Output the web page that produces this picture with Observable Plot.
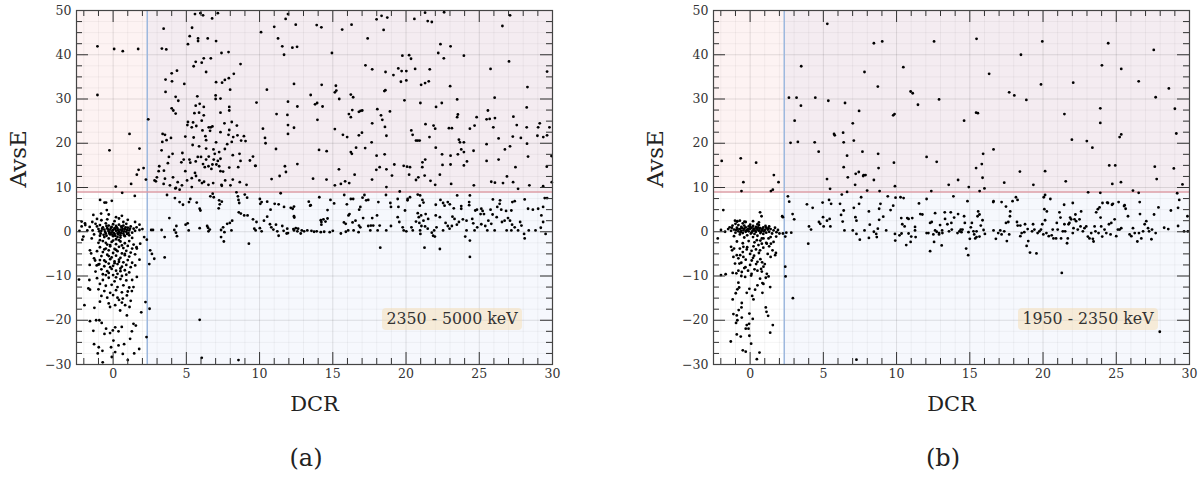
<!DOCTYPE html>
<html>
<head>
<meta charset="utf-8">
<script src="https://cdn.jsdelivr.net/npm/d3@7"></script>
<script src="https://cdn.jsdelivr.net/npm/@observablehq/plot@0.6"></script>
<style>
  html, body { margin: 0; padding: 0; background: #fff; }
  body { font-family: "DejaVu Serif", serif; color: #222; }
  #wrap { display: flex; width: 1201px; height: 480px; }
  .panel { position: relative; height: 480px; }
  .panel svg { display: block; }
  .legend { position: absolute; top: 308px; height: 22px; line-height: 22px; width: 140px;
            background: rgba(245, 222, 179, 0.5); border-radius: 4px; text-align: center;
            font-family: "DejaVu Serif", serif; font-size: 15.8px; color: #333; white-space: nowrap; }
  .caption { position: absolute; top: 444px; width: 100px; text-align: center;
             font-family: "DejaVu Serif", serif; font-size: 24px; color: #222; }
</style>
</head>
<body>
<div id="wrap"></div>
<script>
// ---------- axes / ticks ----------
const xDomain = [-2.5, 30];
const yDomain = [-30, 50];
const dcrCut = 2.33;
const avseCut = 9;
const xMajor = [0, 5, 10, 15, 20, 25, 30];
const xMinor = [-2, -1, 1, 2, 3, 4, 6, 7, 8, 9, 11, 12, 13, 14, 16, 17, 18, 19, 21, 22, 23, 24, 26, 27, 28, 29];
const yMajor = [-30, -20, -10, 0, 10, 20, 30, 40, 50];
const yMinor = [-27.5, -25, -22.5, -17.5, -15, -12.5, -7.5, -5, -2.5, 2.5, 5, 7.5, 12.5, 15, 17.5, 22.5, 25, 27.5, 32.5, 35, 37.5, 42.5, 45, 47.5];
const xLabel = "DCR";
const yLabel = "AvsE";
const legendA = "2350 - 5000 keV";
const legendB = "1950 - 2350 keV";
const captionA = "(a)";
const captionB = "(b)";

// ---------- panel (a): 2350 - 5000 keV ----------
const aCluster = [
[-1.2,1.8],[-1.1,1.2],[-1.0,0.6],[-0.9,1.5],[-0.8,0.2],[-0.7,1.0],[-0.6,0.5],[-0.5,1.9],[-0.5,-0.4],[-0.4,0.8],[-0.3,0.1],[-0.3,1.4],[-0.2,-0.6],[-0.2,0.5],[-0.1,1.1],[-0.1,-0.2],[0.0,0.4],[0.0,1.7],[0.1,-0.5],[0.1,0.8],[0.2,0.2],[0.2,1.3],[0.3,-0.3],[0.3,0.7],[0.4,0.0],[0.4,1.6],[0.5,0.5],[0.5,-0.8],[0.6,1.0],[0.6,0.2],[0.7,-0.4],[0.7,1.4],[0.8,0.6],[0.9,0.0],[0.9,1.8],[1.0,0.9],[1.1,0.3],[1.2,1.2],[1.3,-0.2],[1.4,0.7],[1.5,0.2],[1.6,1.0],[1.8,0.4],[2.0,0.6],[-1.4,0.3],[-1.6,1.1],[-1.3,-0.6],[-0.9,-0.9],[-0.6,-1.2],[-0.3,-1.5],[0.0,-1.0],[0.2,-1.7],[0.5,-1.3],[0.8,-1.0],[1.1,-0.8],[1.3,-1.4],[-0.8,2.6],[-0.4,2.8],[0.1,2.4],[0.4,3.0],[0.7,2.2],[1.0,2.7],[-1.1,2.9],[0.2,3.3],[0.6,3.6],[-0.3,3.9],[1.5,2.2],[1.8,1.6],[-1.9,1.5],[-2.3,0.2],[-2.1,-1.8],
[-0.95,0.1],[-0.75,0.7],[-0.55,0.0],[-0.45,1.3],[-0.35,0.5],[-0.25,-0.1],[-0.15,0.9],[-0.05,0.2],[0.05,-0.3],[0.15,0.6],[0.25,1.0],[0.35,0.3],[0.45,-0.2],[0.55,1.2],[0.65,0.6],[0.75,0.1],[0.85,1.0],[0.95,0.4],[1.05,-0.3],[1.15,0.7],[-0.85,-0.4],[-0.65,-0.7],[-0.45,-0.9],[-0.25,-0.4],[-0.05,-0.7],[0.15,-0.9],[0.35,-0.6],[0.55,-0.3],[0.75,-0.8],[0.95,-0.5],
[-1.0,-2.5],[-0.7,-2.1],[-0.4,-2.9],[-0.1,-2.3],[0.2,-2.8],[0.5,-2.2],[0.8,-2.6],[1.1,-2.1],[1.4,-2.9],[-0.9,-3.5],[-0.5,-3.8],[-0.2,-3.3],[0.1,-3.9],[0.4,-3.4],[0.7,-3.7],[1.0,-3.2],[1.3,-3.8],[-1.1,-4.4],[-0.7,-4.6],[-0.3,-4.2],[0.0,-4.8],[0.3,-4.4],[0.6,-4.9],[0.9,-4.3],[1.2,-4.7],[-0.8,-5.5],[-0.4,-5.2],[-0.1,-5.8],[0.2,-5.4],[0.5,-5.9],[0.8,-5.3],[1.1,-5.6],[1.5,-5.1],[-1.3,-6.0],[-0.9,-6.4],[-0.5,-6.8],[-0.2,-6.2],[0.1,-6.7],[0.4,-6.3],[0.7,-6.9],[1.0,-6.4],[1.3,-7.0],[-1.0,-7.4],[-0.6,-7.8],[-0.3,-7.2],[0.0,-7.7],[0.3,-7.3],[0.6,-7.9],[0.9,-7.5],[1.2,-8.0],[-0.8,-8.5],[-0.4,-8.9],[-0.1,-8.4],[0.2,-8.8],[0.5,-8.3],[0.8,-8.7],[1.1,-9.2],[-1.2,-9.0],[-0.7,-9.6],[-0.3,-9.3],[0.0,-9.8],[0.3,-9.5],[0.6,-10.0],[0.9,-9.7],[-1.5,-4.9],[-1.6,-7.5],[1.6,-3.5],[1.8,-6.3],[-0.9,-1.9],[0.3,-1.2],
[-0.5,-2.5],[0.0,-2.0],[0.4,-1.9],[-0.2,-3.0],[0.6,-3.1],[-0.6,-4.0],[0.2,-4.1],[0.8,-5.0],[-0.3,-5.5],[0.4,-6.8],[-0.6,-6.5],[0.1,-7.1],[-0.2,-8.0],[0.5,-8.9],[-0.5,-9.8],[0.2,-10.3],
[-1.1,-10.5],[-0.7,-10.9],[-0.3,-10.4],[0.1,-11.2],[0.5,-10.7],[0.9,-11.0],[1.3,-10.9],[-0.9,-11.8],[-0.5,-12.2],[-0.1,-12.0],[0.3,-12.5],[0.7,-12.1],[1.1,-12.6],[-1.0,-13.0],[-0.6,-13.4],[-0.2,-13.8],[0.2,-13.2],[0.6,-13.7],[1.0,-13.5],[-0.8,-14.5],[-0.4,-14.9],[0.0,-14.3],[0.4,-15.4],[-0.9,-15.8],[-0.3,-16.2],[0.6,-16.0],[1.2,-15.6],
[-2.33,-10.8],[-1.62,-10.9],[-1.69,-12.8],[-1.58,-13.1],[-1.96,-16.6],[-1.28,-17.2],[-1.58,-20.2],[-1.16,-20.0],[-0.94,-20.0],[-1.35,-22.4],[-1.3,-25.4],[-0.98,-26.1],[-1.05,-27.5],[-0.73,-26.9],[-0.71,-29.5],[-0.09,-28.3],[0.14,-27.2],[0.66,-27.6],[1.0,-29.0],[1.44,-27.5],[1.78,-26.5],[2.28,-23.8],[2.21,-15.9],[1.92,-18.2],[1.39,-20.8],[1.55,-21.2],[1.28,-22.5],[1.16,-24.2],[0.75,-25.4],[0.37,-25.7],[-0.14,-26.1],[0.02,-24.6],[-0.21,-22.9],[-0.02,-22.3],[0.14,-21.6],[0.37,-22.5],[0.59,-21.5],[-0.59,-23.1],[-0.48,-21.9],[-0.78,-20.6],[0.94,-18.9],[1.12,-17.0],[0.82,-16.6],[0.48,-17.8],[0.14,-16.6],[-0.21,-17.0],[0.3,-14.9],[0.66,-15.1],[0.94,-14.4],[1.28,-13.4],[1.39,-12.5],[1.62,-10.2],[1.51,-7.6],[1.62,-3.8],[1.85,-2.7],[2.12,-1.2],[2.3,-1.8],[-0.94,-7.3],[-1.12,-7.6],[-1.23,-6.5],[-1.58,-4.2],[-1.46,-1.5],[-2.03,-1.1],[-2.15,2.3],[-1.92,1.9],[-1.35,3.8],[-0.89,7.2],[-0.59,6.6],[-0.48,6.6],[-0.09,7.0],[-0.82,4.1],[-0.43,4.9],[0.62,8.8],[1.48,8.1],[-2.15,1.2],[-1.76,0.3],[-1.42,2.2]
];
const aUpper = [
[-1.07,41.9],[0.07,41.3],[0.66,40.8],[1.71,41.3],[-1.07,30.9],[1.12,22.1],[-0.25,18.4],[1.8,18.8],[0.18,10.2],[1.23,10.8],[1.62,12.9],[1.74,14.0],[2.08,14.4],[2.24,11.8],
[2.4,25.4],[3.45,45.9],[3.33,41.4],[3.63,41.2],[3.58,34.4],[4.02,34.0],[3.58,31.6],[4.0,35.8],[4.36,36.4],[4.86,33.4],[4.27,30.5],[4.45,29.6],[4.0,27.9],[4.11,27.4],[4.27,26.7],
[5.59,49.2],[5.96,49.4],[6.14,48.9],[6.76,48.2],[7.15,49.4],[5.39,46.1],[5.23,44.2],[5.11,42.4],[5.8,43.7],[5.8,43.1],[6.46,43.7],[7.03,43.1],[7.4,40.4],[7.88,40.6],[5.5,37.4],[5.64,38.4],[6.05,38.2],[6.19,39.2],[6.67,39.2],[6.35,36.1],[7.03,33.8],[7.44,33.7],[7.63,34.3],[7.9,34.7],[8.24,35.7],[8.7,37.9],[7.99,32.1],[7.0,30.8],[7.33,30.1],[7.0,30.0],[5.75,30.6],[5.91,28.9],[5.64,28.5],[6.19,28.2],[5.55,26.8],[5.87,26.9],[6.19,26.3],[7.33,26.9],[7.93,28.2],[7.93,27.4],
[5.11,24.8],[5.46,24.7],[5.07,24.1],[5.68,23.9],[5.37,23.6],[6.05,25.1],[6.1,22.9],[6.53,23.6],[6.67,23.6],[6.78,23.8],[6.62,22.8],[6.3,21.6],[6.35,20.7],[7.33,22.5],[7.6,24.5],[8.1,24.8],[8.45,24.0],[7.93,23.0],[7.88,21.9],[8.2,21.4],[8.49,21.8],[8.93,21.6],[8.74,20.6],[8.1,20.3],[7.79,19.8],[7.63,18.7],[7.03,20.2],[6.85,18.6],[6.35,18.8],[5.87,19.3],[5.43,19.6],[5.5,21.3],[4.93,21.5],[3.95,21.2],[3.38,22.1],[3.54,21.9],[3.36,20.3],[3.65,20.7],[3.31,18.4],[4.06,17.6],[3.81,16.9],[4.73,17.8],[4.82,16.3],[4.66,15.7],[5.21,16.3],[5.27,15.6],[5.64,15.9],[5.78,16.9],[6.0,16.9],[6.53,17.0],[6.94,17.6],[7.24,18.0],[6.87,16.3],[7.15,16.0],[7.33,16.5],[7.05,15.2],[7.24,14.8],[6.78,15.2],[6.51,14.8],[6.14,15.3],[6.35,16.3],[6.26,14.6],[6.71,14.2],[7.33,13.7],[7.51,13.6],[7.93,14.5],[8.63,17.6],[8.54,14.6],[8.7,16.0],[9.34,16.1],[9.73,14.9],[9.55,17.0],[8.17,17.3],[8.65,11.2],[9.11,10.6],[8.17,11.8],[7.65,11.6],[8.01,10.5],[7.42,10.4],[6.83,11.0],[6.51,10.6],[6.07,11.0],[5.89,11.6],[5.66,12.6],[5.59,13.3],[4.93,13.7],[5.37,12.1],[5.05,11.6],[4.7,10.5],[4.41,11.2],[4.09,12.3],[4.25,9.8],[3.88,10.5],[3.54,12.0],[2.99,12.3],[2.83,11.6],[2.92,11.4],[3.11,13.7],[3.15,14.8],[3.74,15.5],[3.47,13.8],[3.45,10.8],[4.54,9.5],[4.29,9.9],[5.37,10.1],[6.21,11.3],[7.4,10.6],
[10.5,32.1],[10.1,45.1],[11.0,46.3],[11.26,43.7],[11.55,41.9],[11.67,40.0],[11.94,49.2],[11.78,48.1],[12.47,46.8],[12.24,41.6],[12.56,41.8],[12.35,33.4],[11.94,29.4],[12.58,28.3],[11.16,26.6],[11.9,26.4],[11.94,24.1],[12.35,23.5],[11.94,22.1],[9.79,29.2],[10.23,23.3],[10.37,21.2],[10.41,20.0],[11.12,18.7],[9.04,20.5],[9.7,14.9],[10.82,11.9],[11.37,12.6],[11.8,13.5],[12.58,15.3],[11.73,14.8],
[13.9,46.7],[14.22,46.2],[15.64,45.7],[16.28,46.8],[17.38,43.7],[17.99,48.0],[18.33,48.8],[18.72,48.4],[18.47,45.6],[20.57,48.1],[21.3,49.5],[21.48,47.6],[21.76,47.4],[22.6,49.6],[27.1,48.9],[26.58,46.5],[27.03,38.5],[29.63,36.2],[14.94,40.4],[14.24,33.2],[15.21,33.0],[15.14,31.5],[15.24,31.9],[15.44,30.0],[13.49,30.9],[16.23,31.0],[16.39,30.4],[17.23,37.6],[17.69,36.7],[18.6,36.1],[19.47,36.9],[19.7,36.3],[20.02,36.3],[19.14,35.4],[19.65,33.9],[20.02,34.2],[19.75,39.8],[20.21,39.9],[20.34,39.1],[20.62,36.8],[21.62,36.7],[21.03,33.2],[21.3,33.6],[21.55,34.0],[18.59,32.0],[18.52,31.8],[19.89,29.7],[20.98,29.1],[22.2,40.4],[22.35,42.4],[22.58,39.2],[23.04,41.9],[23.95,39.8],[23.01,32.9],[23.49,29.9],[22.44,29.1],[22.05,28.2],[26.05,30.3],[25.77,36.8],[28.29,32.7],[28.24,28.1],[25.59,27.4],[25.71,25.5],[25.5,25.4],[26.07,25.7],[27.33,26.0],[27.56,24.1],[28.24,23.6],[29.02,23.6],[29.13,24.5],[29.79,23.6],[28.97,21.7],[29.37,21.4],[29.63,21.8],[27.84,21.2],[27.29,21.5],[28.26,19.9],[27.1,19.3],[26.75,18.6],[26.32,21.1],[25.96,23.6],[24.82,25.9],[24.36,23.3],[24.68,24.0],[23.54,26.5],[23.49,25.9],[23.13,23.4],[22.93,23.4],[23.61,20.8],[23.68,20.2],[23.95,20.2],[24.61,18.3],[23.95,18.0],[23.77,18.6],[24.16,15.9],[23.95,15.0],[23.54,17.5],[25.5,19.8],[25.5,16.0],[26.32,16.3],[28.33,17.0],[29.93,17.1],[29.61,14.7],[27.47,14.6],[26.89,12.5],[25.82,11.3],[26.07,11.1],[26.62,11.0],[27.31,11.2],[28.42,10.5],[29.36,10.3],[29.95,11.2],[27.65,9.7],[24.63,10.5],[23.08,10.8],[22.49,15.1],[23.04,15.2],[22.31,12.9],[21.67,11.5],[21.99,10.6],[21.27,12.7],[21.11,14.6],[21.31,16.3],[21.12,15.7],[20.84,12.3],[20.68,11.7],[20.27,14.6],[20.07,14.7],[19.84,14.9],[20.21,12.9],[19.2,15.2],[19.04,12.7],[18.66,14.1],[18.2,14.6],[17.97,14.0],[17.68,11.8],[18.66,10.1],[19.57,9.1],[22.03,19.0],[23.04,17.2],[22.46,17.5],[21.99,23.3],[21.33,24.3],[21.88,24.0],[21.6,21.4],[20.8,20.6],[20.36,22.9],[20.45,21.9],[20.68,20.6],[20.93,20.6],[18.56,23.7],[18.66,21.7],[18.29,26.3],[18.38,25.3],[18.04,27.7],[18.9,27.2],[17.69,24.5],[17.65,20.2],[17.99,17.2],[18.54,17.5],[16.99,22.4],[16.78,21.8],[17.21,18.9],[16.59,19.0],[16.23,18.0],[16.3,17.6],[16.49,12.9],[16.12,11.0],[15.84,11.4],[15.55,10.8],[15.14,10.5],[15.42,14.1],[15.69,21.9],[15.98,21.4],[15.14,23.2],[16.23,25.9],[16.1,26.6],[16.33,27.5],[16.78,27.1],[16.89,27.3],[17.01,27.4],[13.95,25.3],[13.93,29.1],[13.79,28.8],[14.3,28.3],[14.06,18.5],[14.58,18.2],[13.65,12.0],[14.57,11.8]
];
const aBand = [
[3.68,8.3],[4.22,7.6],[4.54,6.7],[4.77,6.1],[5.27,7.4],[5.18,6.7],[5.71,6.6],[5.91,5.2],[5.96,4.8],[6.64,8.0],[6.8,8.6],[6.87,7.8],[7.24,7.1],[7.28,6.2],[7.21,5.3],[7.42,6.8],[8.42,8.9],[8.52,8.0],[8.56,7.2],[8.61,6.5],[8.99,8.4],[9.15,7.7],[8.72,4.1],[8.58,4.4],[8.95,3.7],[9.18,3.7],[10.02,7.4],[10.05,6.3],[10.14,6.7],[10.52,6.8],[11.03,6.3],[11.44,8.7],[11.3,6.2],[10.52,3.4],[10.3,2.5],[9.55,2.8],[9.79,2.2],[8.13,2.5],[7.79,1.8],[7.97,2.0],[7.37,0.4],[7.51,1.0],[7.6,-0.1],[8.08,0.3],[7.37,-1.2],[7.56,-2.2],[9.27,-2.7],[6.48,0.9],[6.51,0.1],[6.6,0.5],[6.42,1.3],[5.91,0.8],[5.09,1.9],[5.16,0.3],[4.95,1.6],[4.32,1.3],[4.18,0.4],[4.29,-0.2],[3.84,3.1],[3.52,-1.2],[3.31,0.4],[2.72,0.4],[2.6,0.4],[4.36,-1.0],[9.64,0.7],[9.73,0.3],[10.02,0.8],[10.14,0.1],[10.71,1.7],[10.8,1.0],[10.94,0.5],[11.12,1.6],[11.21,0.1],[11.3,-0.9],[11.55,1.3],[11.64,0.2],[11.89,0.7],[11.94,-0.3],[12.31,0.6],[12.47,0.8],[12.58,0.1],[12.37,3.2],[12.26,5.2],[12.35,5.7],[11.67,5.6],[10.75,5.0],
[2.53,-4.2],[2.65,-5.0],[2.81,-6.1],[2.47,-7.3],[3.52,-5.8],[2.49,-17.4],[5.91,-19.9],[6.05,-28.5],[8.56,-29.0],
[11.85,-0.4],[12.35,0.3],[12.63,0.7],[12.81,-0.4],[12.88,0.3],[13.04,0.1],[13.26,0.3],[13.54,0.2],[13.72,0.0],[13.9,0.1],[14.18,-0.1],[14.41,0.0],[14.79,-0.1],[15.0,0.2],[14.22,1.6],[14.18,2.6],[14.5,2.3],[13.49,6.0],[12.35,3.5],[12.13,5.4],[15.55,-0.4],[24.36,-5.7],
[13.36,6.8],[13.45,5.9],[14.08,7.8],[14.84,7.2],[15.09,6.4],[14.64,4.9],[14.36,2.8],[14.22,2.2],[14.64,3.0],[15.78,8.3],[16.23,7.4],[16.39,7.4],[15.96,6.2],[17.16,8.3],[17.03,7.7],[17.28,7.1],[17.42,7.2],[16.88,5.6],[16.8,5.0],[16.14,4.0],[16.07,3.7],[15.76,2.1],[15.88,1.8],[16.35,2.1],[16.55,2.5],[17.07,3.1],[17.69,3.1],[18.02,3.7],[17.6,1.4],[17.76,1.4],[18.2,1.4],[18.06,0.3],[17.56,0.3],[16.79,1.4],[16.88,1.0],[16.42,0.3],[16.05,0.3],[15.89,0.0],[16.76,-0.1],[17.42,1.3],[18.11,6.7],[18.63,8.3],[18.93,6.5],[19.48,5.6],[19.43,3.3],[19.54,2.2],[18.97,1.3],[18.65,0.3],[18.24,-3.6],[19.77,1.0],[19.84,0.3],[20.02,0.1],[19.93,4.8],[20.1,7.1],[20.27,7.8],[20.11,7.4],[20.8,8.4],[20.96,8.2],[21.12,7.2],[21.19,6.6],[20.94,5.9],[20.8,4.2],[21.03,3.7],[21.34,4.0],[20.87,3.3],[20.68,2.3],[20.91,2.0],[21.19,2.5],[21.51,2.9],[21.05,1.3],[21.3,1.2],[21.48,0.7],[20.96,0.3],[20.37,1.0],[20.46,0.3],[20.98,-0.5],[21.26,-3.6],[21.85,-0.9],[21.92,0.3],[21.76,-0.2],[22.08,1.0],[22.03,6.1],[22.35,7.2],[22.53,6.5],[22.63,5.9],[22.03,3.7],[22.31,3.3],[22.31,-3.9],[22.85,6.7],[22.99,6.2],[23.26,5.3],[23.77,5.8],[23.49,8.2],[23.17,3.4],[23.31,2.9],[22.7,2.0],[22.85,1.3],[22.97,0.7],[23.13,1.3],[23.47,1.6],[23.61,2.2],[22.53,0.3],[21.97,-1.1],[24.04,-1.1],[24.36,-2.0],[24.36,8.2],[24.31,6.7],[24.31,6.0],[24.73,4.8],[24.84,5.0],[25.14,5.2],[25.23,4.7],[25.09,4.0],[25.32,4.0],[24.52,2.9],[24.59,1.9],[24.86,1.0],[25.14,1.7],[25.41,1.3],[25.62,2.5],[25.91,3.9],[26.23,5.6],[26.42,7.1],[26.39,6.3],[25.93,7.3],[26.19,3.3],[26.55,2.2],[26.73,2.5],[26.96,3.1],[27.1,2.5],[27.24,1.6],[27.42,1.0],[27.79,2.2],[27.88,1.4],[27.65,0.3],[27.19,0.3],[26.87,0.3],[26.05,0.3],[25.82,1.8],[25.55,0.3],[24.68,0.3],[24.13,0.3],[28.06,-0.5],[28.38,0.3],[28.1,-1.5],[28.84,0.3],[29.2,0.9],[29.53,-0.5],[29.36,2.2],[29.24,3.7],[29.47,7.6],[29.36,5.6],[29.63,7.6],[29.02,5.2],[28.66,5.0],[28.33,5.2],[28.1,7.3],[27.42,6.9],[27.26,6.7],[27.19,4.8],[26.83,4.7],[26.5,5.0],[25.77,5.0],[24.13,2.5],[23.88,2.8],[23.77,5.2],[19.43,7.4],[18.97,5.6]
];

// ---------- panel (b): 1950 - 2350 keV ----------
const bCluster = [
[-1.5,0.6],[-1.4,1.0],[-1.3,0.2],[-1.2,1.4],[-1.1,0.5],[-1.0,-0.2],[-1.0,1.8],[-0.9,0.9],[-0.8,0.1],[-0.8,1.5],[-0.7,0.6],[-0.7,-0.6],[-0.6,1.1],[-0.6,0.2],[-0.5,1.9],[-0.5,-0.3],[-0.4,0.7],[-0.4,1.4],[-0.3,0.0],[-0.3,1.0],[-0.2,0.4],[-0.2,-0.8],[-0.1,1.2],[-0.1,0.1],[0.0,0.6],[0.0,1.6],[0.1,-0.2],[0.1,0.9],[0.2,0.3],[0.2,1.3],[0.3,-0.5],[0.3,0.6],[0.4,0.0],[0.4,1.1],[0.5,0.5],[0.5,-0.9],[0.6,0.2],[0.6,1.5],[0.7,-0.3],[0.7,0.8],[0.8,0.3],[0.9,1.0],[0.9,-0.5],[1.0,0.4],[1.1,0.9],[1.1,-0.2],[1.2,0.5],[1.3,0.0],[1.3,1.2],[1.4,0.6],[1.5,-0.4],[1.6,0.3],[1.7,0.9],[1.8,-0.1],[1.9,0.4],[-0.9,2.3],[-0.7,2.5],[-0.3,2.2],[0.2,2.4],[0.6,2.1],[-1.1,-1.0],[-0.4,-1.3],[0.2,-1.2],[0.8,-1.5],[1.4,-1.2],[-0.95,0.4],[-0.55,0.8],[-0.25,0.3],[0.05,-0.4],[0.35,0.2],[0.65,0.7],[0.95,0.1],[1.25,0.8],[-0.65,-0.1],[-0.15,0.6],[0.15,0.1],[0.45,0.8],[0.75,0.0],[1.05,1.3],[-1.25,0.9],[-0.85,0.6],[-0.45,0.3],[0.25,0.7],[0.55,1.0],[0.85,0.6],
[-0.9,-2.2],[-0.5,-2.6],[-0.1,-2.1],[0.3,-2.4],[0.7,-2.0],[1.1,-2.5],[-0.7,-3.8],[-0.2,-3.5],[0.4,-4.0],[0.9,-3.6],[1.3,-3.3],[-0.5,-4.6],[0.1,-4.3],[0.6,-4.8],[1.2,-5.0],[-0.8,-6.0],[-0.3,-6.3],[0.2,-5.9],[0.7,-6.2],[1.4,-5.7],[-0.6,-7.0],[0.0,-7.5],[0.5,-6.8],[1.0,-7.3],[-0.4,-8.2],[0.3,-8.5],[0.8,-9.0],[-0.8,-8.8],[0.1,-9.5],[-0.6,-10.0],
[-2.21,-1.5],[-1.83,4.9],[-1.99,0.4],[-1.71,0.0],[-1.67,-9.6],[-1.99,-9.8],[-1.3,-3.4],[-1.23,-4.2],[-1.1,-3.8],[-1.14,-5.7],[-1.03,-7.2],[-1.19,-9.3],[-0.94,-9.4],[-0.8,-11.5],[-0.87,-13.0],[-0.75,-12.6],[-0.98,-13.9],[-1.19,-15.3],[-0.57,-16.1],[-0.78,-17.7],[-0.59,-17.1],[-1.14,-18.6],[-0.91,-18.9],[-0.87,-20.0],[-0.96,-20.6],[-0.57,-19.4],[-0.23,-21.1],[-0.07,-20.8],[-0.11,-21.9],[-0.3,-21.9],[-0.91,-23.2],[-0.64,-23.7],[-1.32,-24.8],[-0.05,-23.5],[0.07,-25.3],[-0.5,-26.8],[-0.3,-27.1],[0.46,-28.8],[0.64,-27.3],[0.18,-19.7],[-0.05,-18.5],[0.23,-15.3],[0.14,-14.5],[-0.23,-13.8],[-0.05,-12.9],[0.34,-13.1],[0.84,-13.8],[0.5,-12.1],[0.91,-11.8],[0.68,-10.6],[1.07,-10.4],[1.26,-10.1],[1.14,-9.5],[1.37,-12.5],[1.07,-17.1],[1.12,-18.1],[1.23,-19.0],[1.55,-21.1],[1.37,-22.8],[0.84,-11.6],[0.5,-8.8],[0.75,-8.4],[0.91,-7.9],[0.82,-6.9],[0.41,-7.3],[0.11,-6.5],[0.27,-5.4],[0.0,-5.0],[-0.32,-8.0],[-0.14,-8.8],[0.07,-9.9],[-0.34,-10.2],[-0.57,-9.1],[-0.73,-7.2],[-0.46,-5.7],[-0.68,-5.3],[-0.91,-5.3],[-0.23,-4.0],[-0.46,-3.4],[0.23,-3.3],[0.57,-3.0],[0.8,-2.7],[1.14,-2.7],[1.42,-2.7],[1.6,-2.3],[1.76,-4.8],[1.71,-5.3],[1.53,-4.2],[0.68,-4.2],[0.46,-1.9],[0.91,-1.5],[1.26,-1.5],[1.78,-1.1],[2.0,-0.4],[2.24,-0.4],[2.19,3.5],[2.24,3.3],[0.0,1.1],[0.68,4.4],[0.78,3.5],[0.5,1.7],[-0.39,2.3],[-1.03,2.5],[-0.87,2.4]
];
const bUpper = [
[-1.94,16.0],[-0.64,16.6],[-0.46,11.2],[0.41,15.6],[1.62,12.8],[1.94,11.2],[1.42,9.2],[1.55,9.5],[-0.59,9.2],
[3.49,37.4],[2.65,30.3],[3.17,30.3],[3.47,28.5],[3.04,25.1],[2.76,20.1],[3.26,20.3],[4.45,30.3],[4.41,20.2],[4.68,18.1],[5.27,47.0],[5.34,29.6],[5.73,22.1],[5.78,21.8],[5.25,11.9],[5.46,9.7],[6.35,22.4],[6.39,20.2],[6.48,29.1],[6.39,14.6],[6.62,17.2],[6.67,12.3],[6.62,9.0],[7.01,24.5],[7.08,20.6],[7.17,10.6],[7.21,13.1],[7.42,13.5],[7.44,27.3],[7.67,18.1],[7.72,12.6],[7.76,12.8],[7.88,12.8],[7.81,36.1],[7.99,9.3],[8.45,42.6],[9.02,43.0],[8.72,32.8],[8.74,17.6],[8.77,14.4],[8.45,11.7],[8.84,9.2],[9.77,26.3],[9.86,26.6],[9.82,15.6],[9.89,10.3],
[10.46,37.2],[10.96,31.7],[11.1,31.3],[11.46,28.7],[12.9,29.9],[12.56,43.0],[12.05,16.9],[12.74,15.8],[12.37,9.2],[13.56,10.6],[14.2,11.7],[14.61,25.1],[14.93,10.1],[15.46,43.6],[15.43,26.9],[15.55,26.8],[15.43,14.4],[15.82,15.3],[15.91,17.6],[15.87,12.2],[15.67,9.2],[16.0,9.8],[16.62,18.6],[16.32,35.7],[17.35,11.1],[17.69,31.5],[18.04,30.8],[18.49,40.0],[18.86,29.8],[18.42,13.6],[19.34,10.6],[19.86,33.3],[19.95,43.0],[20.14,13.7],[21.55,11.4],[21.46,26.6],[21.97,20.8],[22.06,33.7],[22.99,20.5],[23.37,19.0],[23.08,8.9],[23.91,27.9],[23.91,24.6],[24.02,37.6],[24.45,42.6],[23.91,8.8],[24.52,15.0],[24.93,15.0],[24.73,10.8],[25.23,21.4],[25.34,22.0],[25.34,36.8],[25.32,11.2],[26.14,9.3],[26.53,34.0],[26.53,8.8],[27.56,41.1],[27.69,30.4],[27.63,14.7],[27.76,11.9],[28.59,32.4],[29.0,27.8],[29.1,22.2],[28.93,14.3],[29.52,10.7],[29.16,8.7]
];
const bBand = [
[2.58,8.0],[2.67,6.8],[2.9,4.0],[3.01,2.8],[2.47,-0.2],[2.81,-0.2],[3.88,6.2],[4.02,1.2],[4.16,0.5],[4.27,5.4],[4.7,2.2],[4.79,1.8],[4.95,6.6],[4.98,3.3],[5.02,1.2],[5.25,2.5],[5.43,2.9],[5.48,1.2],[5.39,7.2],[5.53,6.3],[6.14,6.3],[6.21,3.8],[6.32,2.3],[6.44,0.3],[6.39,4.8],[6.26,8.4],[7.08,5.4],[7.19,3.3],[7.26,2.5],[7.01,0.3],[7.26,-0.5],[7.49,-1.8],[7.81,0.3],[7.44,6.3],[7.58,7.8],[8.11,4.6],[8.17,1.6],[8.11,-1.4],[8.45,0.0],[8.61,-0.5],[8.65,-1.2],[8.72,0.7],[8.81,5.2],[8.9,6.3],[8.81,2.7],[9.09,3.4],[9.29,0.3],[9.59,4.9],[9.77,5.9],[9.89,-0.5],[9.91,-2.0],[2.4,-7.9],[2.42,-10.1],[2.92,-15.0],[3.97,-2.7],[7.26,-28.9],[2.4,-1.1],
[9.4,8.0],[9.93,7.7],[10.27,7.8],[10.48,7.6],[12.05,7.4],[13.88,8.0],[16.6,6.7],[17.17,6.7],[18.15,7.8],[18.26,7.2],[20.05,7.8],[20.14,8.3],[20.5,7.4],[22.03,6.5],[21.44,6.1],[24.06,6.5],[24.43,6.5],[24.71,6.1],[25.16,6.7],[25.53,5.8],[26.6,6.7],[29.3,7.2],
[10.32,3.1],[10.39,1.7],[10.55,1.2],[10.34,-0.4],[10.2,-0.8],[10.66,-3.0],[10.73,3.1],[10.82,2.9],[11.07,3.1],[11.26,1.1],[11.26,0.3],[11.0,-1.1],[10.96,-2.3],[10.82,-0.4],[11.3,-1.2],[11.53,6.4],[11.62,4.0],[11.76,3.9],[12.05,-0.3],[12.17,-0.3],[12.29,-4.4],[12.29,2.0],[12.4,2.2],[12.51,-0.6],[12.63,0.3],[12.63,4.2],[12.56,-2.3],[12.74,0.0],[12.9,-0.6],[12.97,1.5],[13.11,0.3],[13.08,-3.1],[12.9,-0.3],[13.13,-0.3],[13.29,4.4],[13.31,2.9],[13.47,1.7],[13.58,0.1],[13.7,4.4],[13.77,0.5],[13.74,2.0],[13.93,3.2],[14.16,-0.3],[14.2,4.0],[14.29,0.1],[14.38,0.5],[14.43,-0.1],[14.5,0.5],[14.61,3.5],[14.66,2.0],[14.75,-3.8],[14.89,-5.3],[14.91,-0.1],[14.84,6.9],[15.0,-1.6],[15.07,1.0],[15.14,2.0],[15.25,0.1],[15.3,-0.6],[15.37,-1.5],[15.46,-1.2],[15.46,0.1],[15.53,3.5],[15.57,4.6],[15.66,3.9],[15.66,-1.1],[15.75,1.4],[15.87,2.6],[15.94,0.4],[16.03,-0.5],[16.62,6.9],[16.62,0.3],[16.78,-1.6],[16.94,-0.3],[17.08,0.3],[17.17,-0.6],[17.35,0.1],[17.47,2.0],[17.53,-2.1],[17.63,2.2],[17.69,-0.6],[17.47,5.7],[17.74,3.5],[17.76,4.6],[17.92,6.9],[18.22,2.2],[18.27,1.4],[18.45,1.4],[18.54,-0.3],[18.45,-1.0],[18.72,-0.1],[18.77,1.7],[18.95,0.6],[18.88,-3.2],[18.99,-2.1],[19.11,-4.7],[19.25,0.1],[19.32,1.7],[19.41,0.5],[19.55,-4.9],[19.63,-0.3],[19.75,0.1],[19.86,0.5],[19.95,1.7],[20.02,-0.6],[20.09,5.1],[20.14,2.6],[20.26,4.6],[20.23,-0.3],[20.39,-1.0],[20.59,-0.8],[20.66,0.5],[20.71,-1.5],[20.89,-1.5],[20.94,2.0],[21.0,0.5],[21.12,4.4],[21.19,3.2],[21.23,-1.5],[21.28,-9.3],[21.35,0.1],[21.46,1.7],[21.51,0.1],[21.64,-2.6],[21.69,-1.5],[21.74,1.7],[21.8,2.0],[21.85,3.2],[21.92,2.8],[22.03,-0.3],[22.08,0.8],[22.15,2.8],[22.21,3.9],[22.26,2.4],[22.37,0.5],[22.49,2.8],[22.56,1.2],[22.6,4.6],[22.72,0.1],[22.83,0.8],[22.95,1.2],[23.06,-1.1],[23.17,-1.5],[23.29,-0.3],[23.4,-1.6],[23.45,-2.2],[23.52,1.2],[23.58,0.1],[23.63,4.4],[23.74,5.1],[23.79,-0.3],[23.86,5.5],[23.93,3.2],[23.97,1.2],[24.04,-1.1],[24.2,0.5],[24.32,-0.3],[24.38,6.6],[24.5,1.7],[24.61,-0.6],[24.66,2.0],[24.77,6.3],[24.89,2.8],[25.0,-1.0],[25.11,0.5],[25.23,0.5],[25.34,0.8],[25.57,6.0],[25.64,5.2],[25.8,3.5],[25.91,-0.6],[26.03,-1.0],[26.14,0.8],[26.26,-0.3],[26.44,-2.2],[26.55,-0.3],[26.62,4.0],[26.71,-1.5],[26.83,0.1],[26.94,1.7],[27.05,2.4],[27.17,0.8],[27.24,0.1],[27.4,-1.7],[27.44,0.5],[27.58,3.9],[27.69,-0.3],[27.88,5.5],[27.97,-22.6],[28.27,0.9],[28.55,0.6],[28.73,4.8],[29.22,5.4],[29.22,1.3],[29.63,0.1],[29.86,3.5],[29.89,0.1]
];

// ---------- drawing ----------
const fmt = d => (d < 0 ? "\u2212" + Math.abs(d) : String(d));
const FONT = "DejaVu Serif";

function makePanel(pairs, { width, ml, mr }) {
  const data = pairs.map(([dcr, avse]) => ({ dcr, avse }));
  const height = 420, mt = 10, mb = 56;
  const fw = width - ml - mr, fh = height - mt - mb;
  const regions = [
    { x1: xDomain[0], x2: xDomain[1], y1: avseCut, y2: yDomain[1], fill: "#d62728", op: 0.055 },
    { x1: dcrCut, x2: xDomain[1], y1: yDomain[0], y2: yDomain[1], fill: "#2a5fd0", op: 0.045 }
  ];
  const tickStyle = { stroke: "#333", strokeWidth: 1 };
  return Plot.plot({
    width, height,
    marginLeft: ml, marginRight: mr, marginTop: mt, marginBottom: mb,
    x: { domain: xDomain, label: null },
    y: { domain: yDomain, label: null },
    style: { fontFamily: FONT, fontSize: "12.5px", color: "#222", background: "white", overflow: "visible" },
    marks: [
      Plot.rect(regions, { x1: "x1", x2: "x2", y1: "y1", y2: "y2", fill: "fill", fillOpacity: d => d.op }),
      Plot.gridX(xMinor, { stroke: "#000", strokeOpacity: 0.045 }),
      Plot.gridY(yMinor, { stroke: "#000", strokeOpacity: 0.045 }),
      Plot.gridX(xMajor, { stroke: "#000", strokeOpacity: 0.11 }),
      Plot.gridY(yMajor, { stroke: "#000", strokeOpacity: 0.11 }),
      Plot.ruleX([dcrCut], { stroke: "#9db8de", strokeWidth: 1.5 }),
      Plot.ruleY([avseCut], { stroke: "#dc9ea6", strokeWidth: 1.5 }),
      Plot.dot(data, { x: "dcr", y: "avse", r: 1.4, fill: "black", stroke: null }),
      // inward ticks on all four sides
      Plot.ruleX(xMajor, { ...tickStyle, insetTop: fh - 12 }),
      Plot.ruleX(xMajor, { ...tickStyle, insetBottom: fh - 12 }),
      Plot.ruleX(xMinor, { ...tickStyle, insetTop: fh - 6 }),
      Plot.ruleX(xMinor, { ...tickStyle, insetBottom: fh - 6 }),
      Plot.ruleY(yMajor, { ...tickStyle, insetRight: fw - 12 }),
      Plot.ruleY(yMajor, { ...tickStyle, insetLeft: fw - 12 }),
      Plot.ruleY(yMinor, { ...tickStyle, insetRight: fw - 6 }),
      Plot.ruleY(yMinor, { ...tickStyle, insetLeft: fw - 6 }),
      Plot.frame({ stroke: "#444", strokeWidth: 1.2 }),
      Plot.axisX(xMajor, { tickSize: 0, tickPadding: 5, tickFormat: fmt, label: null, fill: "#333", fontFamily: FONT, fontSize: 12.5 }),
      Plot.axisY(yMajor, { tickSize: 0, tickPadding: 5, tickFormat: fmt, label: null, fill: "#333", fontFamily: FONT, fontSize: 12.5 }),
      Plot.text([xLabel], { text: d => d, frameAnchor: "bottom", dy: 32, lineAnchor: "top", fontFamily: FONT, fontSize: 21, fill: "#222" }),
      Plot.text([yLabel], { text: d => d, frameAnchor: "left", dx: -58, rotate: -90, fontFamily: FONT, fontSize: 23, fill: "#222" })
    ]
  });
}

const wrap = document.getElementById("wrap");
function addPanel(pairs, cfg, legend, caption) {
  const div = document.createElement("div");
  div.className = "panel";
  div.style.width = cfg.width + "px";
  div.appendChild(makePanel(pairs, cfg));
  const lg = document.createElement("div");
  lg.className = "legend";
  lg.style.left = cfg.legendLeft + "px";
  lg.textContent = legend;
  div.appendChild(lg);
  const cp = document.createElement("div");
  cp.className = "caption";
  cp.style.left = (cfg.captionCenter - 50) + "px";
  cp.textContent = caption;
  div.appendChild(cp);
  wrap.appendChild(div);
}
addPanel([...aCluster, ...aUpper, ...aBand], { width: 600, ml: 76, mr: 48, legendLeft: 382, captionCenter: 306 }, legendA, captionA);
addPanel([...bCluster, ...bUpper, ...bBand], { width: 601, ml: 113, mr: 12, legendLeft: 418, captionCenter: 343 }, legendB, captionB);
</script>
</body>
</html>
